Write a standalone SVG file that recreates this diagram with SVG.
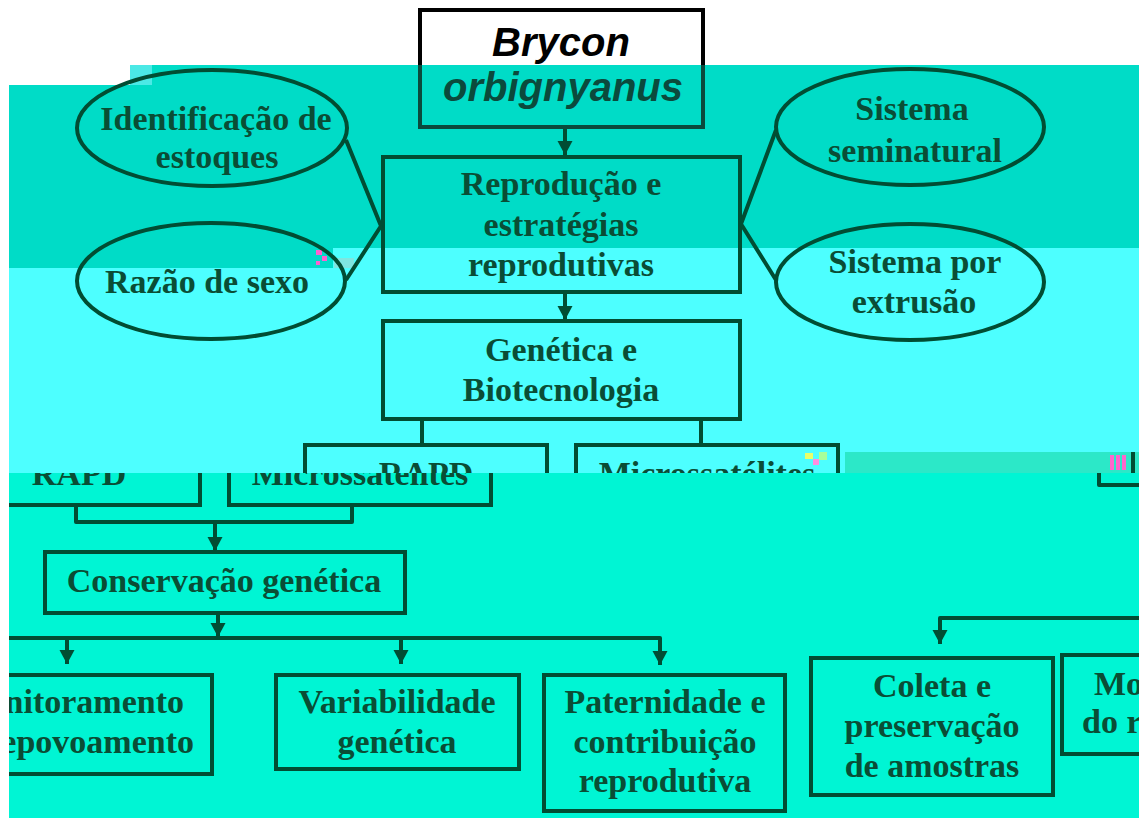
<svg xmlns="http://www.w3.org/2000/svg" width="1139" height="818" viewBox="0 0 1139 818">
<defs>
<style>
.t{font-family:"Liberation Serif","Times New Roman",serif;font-weight:bold;font-size:34px;fill:#0a4d35;text-anchor:middle}
.s{text-anchor:start}
.e{text-anchor:end}
.b{fill:none;stroke:#014d33;stroke-width:4}
.c{fill:none;stroke:#014d33;stroke-width:4;stroke-linejoin:round}
.i{font-family:"Liberation Sans",Arial,sans-serif;font-weight:bold;font-style:italic;font-size:40px;text-anchor:middle}
</style>
<marker id="ah" markerUnits="userSpaceOnUse" markerWidth="16" markerHeight="16" refX="14" refY="8" orient="auto" viewBox="0 0 16 16"><path d="M0,0.5 L14,8 L0,15.5 z" fill="#014d33"/></marker>
<clipPath id="lo"><rect x="9" y="473" width="1130" height="345"/></clipPath>
<clipPath id="up"><rect x="0" y="0" width="1139" height="473"/></clipPath>
<clipPath id="wh"><rect x="0" y="0" width="1139" height="65"/></clipPath>
<clipPath id="tl"><rect x="0" y="65" width="1139" height="100"/></clipPath>
</defs>

<g id="background">
<rect width="1139" height="818" fill="#ffffff"/>
<rect x="130" y="65" width="1009" height="183" fill="#00dcc7"/>
<rect x="9" y="85" width="121" height="183" fill="#00dcc7"/>
<rect x="130" y="248" width="203" height="20" fill="#00dcc7"/>
<rect x="130" y="65" width="22" height="20" fill="#4be9e6"/>
<rect x="9" y="268" width="324" height="205" fill="#4dffff"/>
<rect x="333" y="248" width="806" height="225" fill="#4dffff"/>
<rect x="845" y="452" width="294" height="21" fill="#2ce8c8"/>
<rect x="9" y="473" width="1130" height="345" fill="#00f5d4"/>
<rect x="316" y="250" width="6" height="5" fill="#ff5fd0"/>
<rect x="322" y="256" width="5" height="5" fill="#ff5fd0"/>
<rect x="316" y="261" width="4" height="4" fill="#ff5fd0"/>
<rect x="334" y="258" width="20" height="10" fill="#7fe6e0"/>
<rect x="805" y="453" width="8" height="6" fill="#e8ff6a"/>
<rect x="813" y="459" width="6" height="6" fill="#ff8fe0"/>
<rect x="819" y="452" width="8" height="8" fill="#a8ff9a"/>
<rect x="1110" y="455" width="4" height="15" fill="#ff66cc"/>
<rect x="1116" y="455" width="4" height="15" fill="#ff66cc"/>
<rect x="1122" y="455" width="4" height="15" fill="#ff66cc"/>
</g>

<g id="brycon">
<rect x="420" y="10" width="283" height="117" fill="none" stroke="#000" stroke-width="4" clip-path="url(#wh)"/>
<rect x="420" y="10" width="283" height="117" fill="none" stroke="#0b4a3c" stroke-width="4" clip-path="url(#tl)"/>
<text class="i" x="561" y="56" fill="#000">Brycon</text>
<text class="i" x="563" y="101" fill="#0b4a3c">orbignyanus</text>
</g>

<g id="identificacao">
<ellipse class="b" cx="212" cy="128" rx="135" ry="58"/>
<text class="t" x="216" y="130">Identificação de</text>
<text class="t" x="217" y="168">estoques</text>
</g>

<g id="razao">
<ellipse class="b" cx="211" cy="281" rx="134" ry="58"/>
<text class="t" x="207" y="293">Razão de sexo</text>
</g>

<g id="seminatural">
<ellipse class="b" cx="910" cy="127" rx="134" ry="58"/>
<text class="t" x="912" y="120">Sistema</text>
<text class="t" x="915" y="162">seminatural</text>
</g>

<g id="extrusao">
<ellipse class="b" cx="910" cy="282" rx="134" ry="58"/>
<text class="t" x="915" y="273">Sistema por</text>
<text class="t" x="914" y="313">extrusão</text>
</g>

<g id="reproducao">
<rect class="b" x="383" y="157" width="357" height="135"/>
<text class="t" x="561" y="195">Reprodução e</text>
<text class="t" x="561" y="236">estratégias</text>
<text class="t" x="561" y="276">reprodutivas</text>
</g>

<g id="genetica">
<rect class="b" x="383" y="321" width="357" height="98"/>
<text class="t" x="561" y="361">Genética e</text>
<text class="t" x="561" y="401">Biotecnologia</text>
</g>

<g id="rapd-upper" clip-path="url(#up)">
<rect class="b" x="305" y="445" width="242" height="60"/>
<text class="t" x="426" y="485">RAPD</text>
</g>

<g id="micro-upper" clip-path="url(#up)">
<rect class="b" x="576" y="445" width="262" height="60"/>
<text class="t" x="707" y="485">Microssatélites</text>
</g>

<g id="mi-upper">
<line class="b" x1="1133" y1="452" x2="1133" y2="473"/>
</g>

<g id="rapd-lower" clip-path="url(#lo)">
<rect class="b" x="-42" y="445" width="242" height="60"/>
<text class="t" x="79" y="485">RAPD</text>
</g>

<g id="micro-lower" clip-path="url(#lo)">
<rect class="b" x="229" y="445" width="262" height="60"/>
<text class="t" x="360" y="485">Microssatélites</text>
</g>

<g id="corner-lower">
<path class="c" d="M1099 473 V485 H1139"/>
</g>

<g id="conservacao">
<rect class="b" x="45" y="552" width="360" height="61"/>
<text class="t" x="224" y="592">Conservação genética</text>
</g>

<g id="monitoramento" clip-path="url(#lo)">
<rect class="b" x="-60" y="675" width="272" height="99"/>
<text class="t e" x="184" y="713">nitoramento</text>
<text class="t e" x="194" y="753">epovoamento</text>
</g>

<g id="variabilidade">
<rect class="b" x="276" y="675" width="243" height="94"/>
<text class="t" x="397" y="713">Variabilidade</text>
<text class="t" x="397" y="753">genética</text>
</g>

<g id="paternidade">
<rect class="b" x="544" y="675" width="241" height="136"/>
<text class="t" x="665" y="713">Paternidade e</text>
<text class="t" x="665" y="753">contribuição</text>
<text class="t" x="665" y="792">reprodutiva</text>
</g>

<g id="coleta">
<rect class="b" x="811" y="658" width="242" height="137"/>
<text class="t" x="932" y="697">Coleta e</text>
<text class="t" x="932" y="737">preservação</text>
<text class="t" x="932" y="777">de amostras</text>
</g>

<g id="mo">
<rect class="b" x="1062" y="655" width="100" height="99"/>
<text class="t s" x="1094" y="695">Mo</text>
<text class="t s" x="1082" y="733">do r</text>
</g>

<g id="connectors">
<path class="c" d="M346 140 L381 226 L346 280"/>
<path class="c" d="M776 130 L741 224 L776 280"/>
<path class="c" d="M565 129 V155" marker-end="url(#ah)"/>
<path class="c" d="M565 294 V320" marker-end="url(#ah)"/>
<path class="c" d="M422 421 V445"/>
<path class="c" d="M701 421 V445"/>
<path class="c" d="M76 505 V522 H352 V505"/>
<path class="c" d="M215 522 V551" marker-end="url(#ah)"/>
<path class="c" d="M218 615 V637" marker-end="url(#ah)"/>
<path class="c" d="M9 638 H660 V665" marker-end="url(#ah)"/>
<path class="c" d="M67 638 V664" marker-end="url(#ah)"/>
<path class="c" d="M401 638 V664" marker-end="url(#ah)"/>
<path class="c" d="M1139 618 H940 V644" marker-end="url(#ah)"/>
</g>
</svg>
